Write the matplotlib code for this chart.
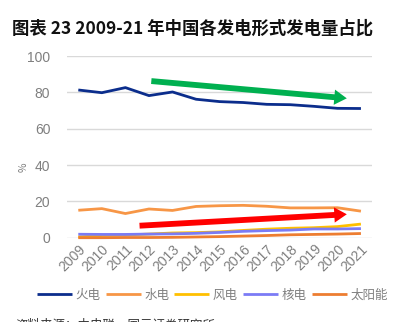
import matplotlib
matplotlib.use("Agg")
import matplotlib.pyplot as plt

plt.rcParams['font.family'] = ['Noto Sans CJK SC', 'DejaVu Sans']

years = ['2009', '2010', '2011', '2012', '2013', '2014', '2015',
         '2016', '2017', '2018', '2019', '2020', '2021']
thermal = [81.3, 79.8, 82.6, 78.2, 80.2, 76.2, 74.9, 74.4, 73.4, 73.2, 72.3, 71.2, 71.1]
hydro = [15.1, 16.0, 13.3, 15.8, 15.0, 17.2, 17.6, 17.8, 17.3, 16.4, 16.4, 16.5, 14.6]
wind = [0.4, 1.2, 1.5, 2.0, 2.6, 2.8, 3.2, 4.0, 4.7, 5.2, 5.5, 6.1, 7.5]
nuclear = [1.9, 1.8, 1.8, 2.0, 2.1, 2.4, 2.9, 3.5, 3.9, 4.2, 4.8, 4.8, 5.0]
solar = [0.0, 0.0, 0.1, 0.1, 0.2, 0.4, 0.6, 0.9, 1.2, 1.6, 1.8, 2.0, 2.3]

series = [('火电', thermal, '#0B2D8C'),
          ('水电', hydro, '#F79646'),
          ('风电', wind, '#FFC000'),
          ('核电', nuclear, '#7B7BF5'),
          ('太阳能', solar, '#ED7D31')]

fig = plt.figure(figsize=(3.97, 3.22), dpi=100)
ax = fig.add_axes([67/397, 1 - 237.7/322, 305/397, 181.7/322])

x = list(range(len(years)))
for name, vals, color in series:
    ax.plot(x, vals, color=color, lw=2.0, label=name, clip_on=False,
            solid_capstyle='butt')

# trend arrows
arrow = 'simple,head_width=1.1,head_length=0.9,tail_width=0.42'
ax.annotate('', xy=(11.4, 76.7), xytext=(3.1, 86.2),
            arrowprops=dict(arrowstyle=arrow, color='#00B050', lw=0,
                            shrinkA=0, shrinkB=0))
ax.annotate('', xy=(11.4, 12.9), xytext=(2.6, 6.6),
            arrowprops=dict(arrowstyle=arrow, color='#FF0000', lw=0,
                            shrinkA=0, shrinkB=0))

ax.set_xlim(-0.48, 12.47)
ax.set_ylim(0, 100)
ax.set_yticks([0, 20, 40, 60, 80, 100])
ax.yaxis.grid(True, color='#D9D9D9', lw=1)
ax.set_axisbelow(True)
for s in ax.spines.values():
    s.set_visible(False)
ax.tick_params(length=0, colors='#7F7F7F', labelsize=10)
ax.tick_params(axis='y', pad=12)
ax.set_xticks(x)
ax.set_xticklabels(years, rotation=45, ha='right', va='top',
                   rotation_mode='anchor', fontfamily='Liberation Sans')
ax.tick_params(axis='x', pad=3)
for t in ax.get_yticklabels():
    t.set_fontfamily('Liberation Sans')
ax.set_ylabel('%', color='#7F7F7F', fontsize=7.5)
ax.yaxis.set_label_coords(-0.125, 0.39)

fig.text(0.03, 0.895, '图表 23 2009-21 年中国各发电形式发电量占比',
         fontsize=12.5, fontweight='bold', color='#111111')

fig.legend(loc='center', bbox_to_anchor=(0.535, 0.083), ncol=5, frameon=False,
           fontsize=9, handlelength=2.8, handletextpad=0.3, columnspacing=0.4,
           labelcolor='#7F7F7F')

# source line, cut off at the bottom edge as in the original
fig.text(0.04, 0.01, '资料来源：中电联，国元证券研究所', fontsize=9, color='#333333',
         va='top')

plt.savefig('out.png', dpi=100)
